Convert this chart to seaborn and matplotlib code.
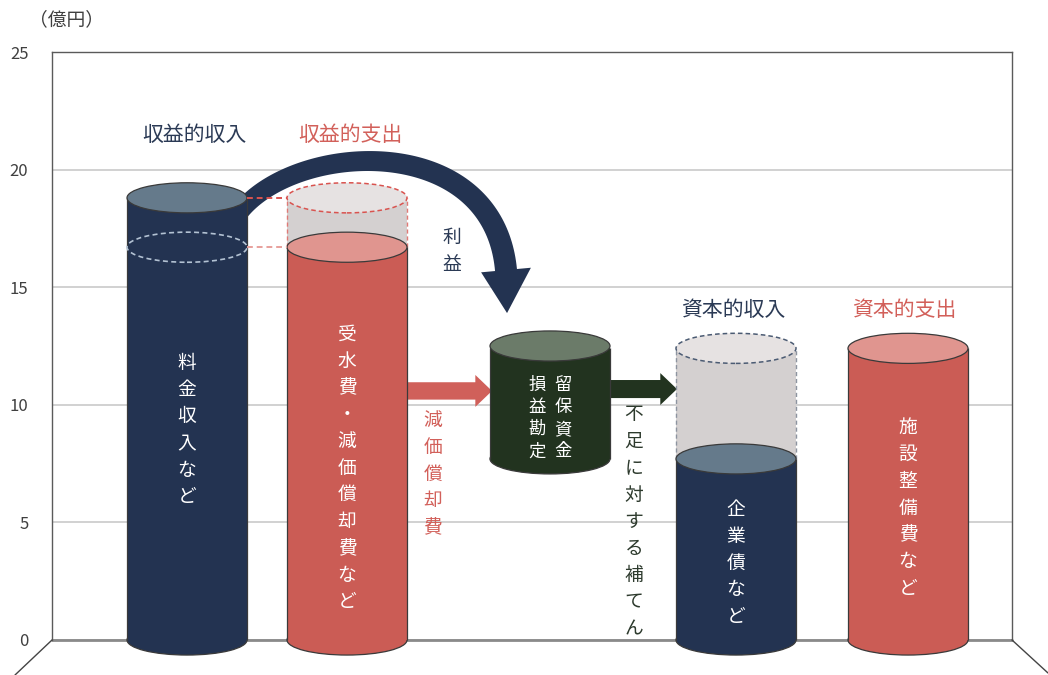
import matplotlib
matplotlib.use("Agg")
import matplotlib.pyplot as plt
import numpy as np
import pandas as pd
import seaborn as sns
from matplotlib.patches import Ellipse, FancyArrowPatch, Polygon
from matplotlib.lines import Line2D

# ---- data (億円) -------------------------------------------------------
categories = ["収益的収入", "収益的支出", "資本的収入", "資本的支出"]
contents = ["料金収入など", "受水費・減価償却費など", "企業債など", "施設整備費など"]
amounts = [18.8, 16.7, 7.7, 12.4]
reserve_columns = ["損益勘定", "留保資金"]
y_ticks = [0, 5, 10, 15, 20, 25]

profit = amounts[0] - amounts[1]          # 利益
shortfall = amounts[3] - amounts[2]       # 不足額 (留保資金で補てん)

# ---- layout ------------------------------------------------------------
x_pos = [0.84375, 1.84375, 4.275, 5.35]
x_reserve = 3.1125
bar_w = 0.75
ell_h = 1.28

NAVY, NAVY_TOP = "#233351", "#657a8b"
RED, RED_TOP = "#cb5c55", "#e0958f"
GHOST, GHOST_TOP = "#d4d0d0", "#e6e2e2"
GREEN, GREEN_TOP = "#22331f", "#6b7b69"
EDGE = "#3a3a3a"
NAVY_TXT = "#2b3a55"
RED_TXT = "#d2605a"

body_colors = [NAVY, RED, NAVY, RED]
top_colors = [NAVY_TOP, RED_TOP, NAVY_TOP, RED_TOP]

sns.set_theme(style="white")
plt.rcParams["font.family"] = ["Noto Sans CJK JP", "DejaVu Sans"]

fig = plt.figure(figsize=(10.48, 6.75), dpi=100)
ax = fig.add_axes([52 / 1048, 35 / 675, 960 / 1048, 588 / 675])

df = pd.DataFrame({"x": x_pos, "amount": amounts, "category": categories})
sns.barplot(data=df, x="x", y="amount", hue="category",
            palette=dict(zip(categories, body_colors)), saturation=1,
            native_scale=True, dodge=False, width=bar_w, errorbar=None,
            legend=False, linewidth=0, ax=ax, zorder=3)

ax.set_xlim(0, 6)
ax.set_ylim(0, 25)
ax.set_xlabel("")
ax.set_ylabel("")
ax.set_xticks([])
ax.set_yticks(y_ticks)
ax.set_yticklabels([str(t) for t in y_ticks])
ax.tick_params(axis="y", length=0, pad=17, labelsize=12, labelcolor="#404040")
ax.yaxis.grid(True, color="#c9c9c9", lw=1.2, zorder=0.5)
ax.set_axisbelow(True)
for side in ["left", "top", "right"]:
    ax.spines[side].set_color("#5a5a5a")
    ax.spines[side].set_linewidth(1.0)
ax.spines["bottom"].set_visible(False)
ax.axhline(0, color="#8a8a8a", lw=2.0, zorder=1.5, clip_on=False)

# floor perspective lines
fig.add_artist(Line2D([52 / 1048, 15 / 1048], [35 / 675, 0], color="#444444", lw=1))
fig.add_artist(Line2D([1012 / 1048, 1048 / 1048], [35 / 675, 2 / 675], color="#444444", lw=1))


def ellipse(x, y, face, edge=EDGE, ls="-", lw=0.9, z=3.2, fill=True):
    e = Ellipse((x, y), bar_w, ell_h, facecolor=face if fill else "none",
                edgecolor=edge, lw=lw, linestyle=ls, zorder=z, clip_on=False)
    ax.add_patch(e)


def sides(x, y0, y1, color=EDGE, ls="-", lw=0.9, z=3.1):
    for dx in (-bar_w / 2, bar_w / 2):
        ax.plot([x + dx, x + dx], [y0, y1], color=color, ls=ls, lw=lw,
                zorder=z, clip_on=False, solid_capstyle="butt")


def curved_arrow(ctrl, tip, w0, w1, head_w, color, z):
    """Tapered block arrow along a cubic Bezier (widths in pixels)."""
    P = ax.transData.transform(np.asarray(ctrl, float))
    T = ax.transData.transform(np.asarray([tip], float))[0]
    t = np.linspace(0, 1, 120)[:, None]
    pts = ((1 - t) ** 3 * P[0] + 3 * (1 - t) ** 2 * t * P[1]
           + 3 * (1 - t) * t ** 2 * P[2] + t ** 3 * P[3])
    der = (3 * (1 - t) ** 2 * (P[1] - P[0]) + 6 * (1 - t) * t * (P[2] - P[1])
           + 3 * t ** 2 * (P[3] - P[2]))
    nrm = np.column_stack([-der[:, 1], der[:, 0]])
    nrm /= np.linalg.norm(nrm, axis=1)[:, None]
    half = (w0 + (w1 - w0) * t) / 2
    left, right = pts + nrm * half, pts - nrm * half
    b1 = P[3] + nrm[-1] * head_w / 2
    b2 = P[3] - nrm[-1] * head_w / 2
    poly = np.vstack([left, b1, T, b2, right[::-1]])
    ax.add_patch(Polygon(ax.transData.inverted().transform(poly), closed=True,
                         facecolor=color, lw=0, zorder=z, clip_on=False))


# ghost extensions (what the column would reach)
ax.bar(x_pos[1], profit, bottom=amounts[1], width=bar_w, color=GHOST, lw=0, zorder=3.05)
sides(x_pos[1], amounts[1], amounts[0], color="#e07a76", ls=(0, (3, 2)), lw=1.0, z=3.08)
ellipse(x_pos[1], amounts[0], GHOST_TOP, edge="#d9534f", ls=(0, (3, 2)), lw=1.1, z=3.1)

ax.bar(x_pos[2], shortfall, bottom=amounts[2], width=bar_w, color=GHOST, lw=0, zorder=3.05)
sides(x_pos[2], amounts[2], amounts[3], color="#8d94a0", ls=(0, (3, 2)), lw=1.0, z=3.08)
ellipse(x_pos[2], amounts[3], GHOST_TOP, edge="#4b5b73", ls=(0, (3, 2)), lw=1.1, z=3.1)

# main cylinders
for x, v, body, top in zip(x_pos, amounts, body_colors, top_colors):
    ellipse(x, 0, body, z=2.9)
    sides(x, 0, v)
    ellipse(x, v, top, z=3.2)

# 損益勘定留保資金 (floating cylinder)
ax.bar(x_reserve, shortfall, bottom=amounts[2], width=bar_w, color=GREEN, lw=0, zorder=3)
ellipse(x_reserve, amounts[2], GREEN, z=2.9)
sides(x_reserve, amounts[2], amounts[3])
ellipse(x_reserve, amounts[3] + 0.1, GREEN_TOP, z=3.2)

# level markers between income and expense
ellipse(x_pos[0], amounts[1], None, edge="#b3c2d3", ls=(0, (3, 2)), lw=1.2, z=3.25, fill=False)
xa, xb = x_pos[0] + bar_w / 2, x_pos[1] - bar_w / 2
ax.plot([xa, xb], [amounts[0], amounts[0]], color="#d9534f", ls=(0, (3, 2)), lw=1.4, zorder=3.3)
ax.plot([xa, xb], [amounts[1], amounts[1]], color="#e8a09c", ls=(0, (3, 2)), lw=1.4, zorder=3.3)

# curved arrow: 利益 flows into retained funds
curved_arrow([(1.1, 17.3), (1.29, 21.1), (2.75, 22.19), (2.8375, 15.73)],
             (2.844, 13.9), w0=18, w1=22, head_w=50, color=NAVY, z=2)

# straight arrows
ax.add_patch(FancyArrowPatch((2.2, 10.59), (2.75, 10.59),
                             arrowstyle="simple,head_length=12,head_width=23,tail_width=12.5",
                             mutation_scale=1, shrinkA=0, shrinkB=0,
                             color="#d0605a", lw=0, zorder=2))
ax.add_patch(FancyArrowPatch((x_reserve, 10.67), (3.906, 10.67),
                             arrowstyle="simple,head_length=12,head_width=23,tail_width=13",
                             mutation_scale=1, shrinkA=0, shrinkB=0,
                             color=GREEN, lw=0, zorder=2))


def vtext(x, y, s, color, size=13.5, ls=1.36, z=5):
    ax.text(x, y, "\n".join(s), ha="center", va="center", color=color,
            fontsize=size, linespacing=ls, zorder=z)


# column headers
for x, y, s, c in [(0.89, 21.47, categories[0], NAVY_TXT),
                   (1.8625, 21.47, categories[1], RED_TXT),
                   (4.256, 14.03, categories[2], NAVY_TXT),
                   (5.325, 14.03, categories[3], RED_TXT)]:
    ax.text(x, y, s, ha="center", va="center", color=c, fontsize=15, zorder=5)

# contents inside the cylinders
vtext(x_pos[0], 8.93, contents[0], "white")
vtext(x_pos[1], 7.31, contents[1], "white")
vtext(x_pos[2], 3.27, contents[2], "white")
vtext(x_pos[3], 5.61, contents[3], "white")
vtext(x_reserve - 0.081, 9.44, reserve_columns[0], "white", size=12.5, ls=1.3)
vtext(x_reserve + 0.081, 9.44, reserve_columns[1], "white", size=12.5, ls=1.3)

# flow labels
vtext(2.5, 16.54, "利益", NAVY_TXT)
vtext(2.38, 7.06, "減価償却費", RED_TXT)
vtext(3.6375, 5.02, "不足に対する補てん", "#2d3a2d")

fig.text(66 / 1048, 1 - 20 / 675, "（億円）", ha="center", va="center",
         fontsize=13.5, color="#404040")

fig.savefig("out.png", dpi=100)
